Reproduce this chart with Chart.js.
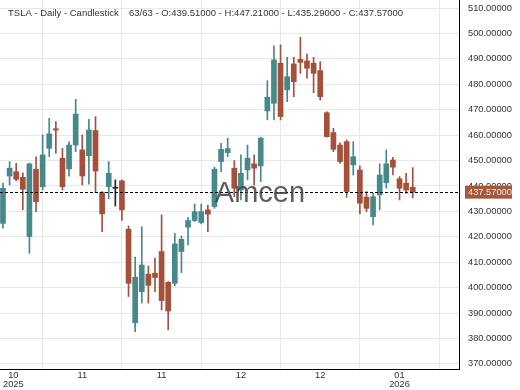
<!DOCTYPE html>
<html><head><meta charset="utf-8">
<script src="https://cdn.jsdelivr.net/npm/chart.js@4.4.0/dist/chart.umd.min.js"></script>
<style>html,body{margin:0;padding:0;background:#fff;overflow:hidden}</style>
</head><body>
<canvas id="c" width="520" height="390"></canvas>
<script>
const symbol = "TSLA";
const watermark = "Amcen";
const opens  = [425.3,443.9,445.6,443.4,420.1,446.6,439.7,454.8,462.5,450.9,446.7,456.1,454.2,451.9,461.8,437.4,439.7,439.1,442.0,423.0,386.2,398.4,405.3,405.7,414.2,402.1,401.7,414.2,423.8,426.4,425.6,430.6,431.9,449.6,453.1,447.0,438.4,446.3,448.7,447.9,469.5,472.5,488.3,477.8,488.0,489.8,489.2,488.3,485.4,468.8,461.0,456.1,457.4,448.3,446.3,435.6,427.9,436.5,441.3,450.2,442.8,441.1,439.51];
const highs  = [441.1,449.6,448.9,445.2,449.0,451.5,460.1,466.6,465.3,454.8,457.4,474.1,460.1,466.2,467.3,437.8,449.6,442.4,442.4,424.3,412.0,424.0,408.5,411.6,428.6,402.4,421.4,420.3,427.7,432.9,432.9,432.5,447.4,456.8,458.8,450.0,452.2,456.1,452.2,459.2,481.4,495.1,495.5,490.6,490.6,498.5,491.9,490.6,488.9,469.2,462.7,457.0,458.1,457.4,447.9,437.8,437.1,448.7,454.2,451.3,443.7,445.0,447.21];
const lows   = [423.4,440.4,442.0,430.6,413.5,429.9,438.4,451.5,452.9,438.4,443.9,453.5,440.4,440.7,437.4,422.0,435.0,432.1,426.4,396.5,382.7,393.9,393.9,398.4,391.2,383.4,400.7,405.9,416.8,426.0,425.1,422.0,431.2,445.6,451.5,435.8,434.5,442.4,440.4,441.7,466.0,466.0,466.0,473.2,475.1,484.3,482.4,476.7,473.8,459.2,453.5,448.9,435.5,444.3,429.0,429.9,424.7,430.6,439.1,444.3,434.5,437.1,435.29];
const closes = [439.1,447.0,442.6,438.7,448.7,433.8,452.2,460.5,462.0,439.7,456.1,468.3,443.9,462.0,445.9,429.0,445.0,439.1,430.6,401.7,404.1,408.9,400.9,404.0,394.9,390.8,417.2,419.0,426.4,429.9,429.9,428.9,446.6,454.4,454.7,439.1,445.0,450.9,447.0,458.8,474.9,489.6,467.3,483.0,481.0,488.6,486.3,484.3,475.1,459.4,454.4,449.6,437.8,451.5,433.2,431.2,435.8,444.3,448.7,447.4,439.1,438.4,437.57];
const tickIndex  = [0, 12, 24, 36, 48, 60];
const tickLabels = [["10","2025"],["11"],["11"],["12"],["12"],["01","2026"]];
const yTicks = [370,380,390,400,410,420,430,440,450,460,470,480,490,500,510];

const UP = '#47898a', DOWN = '#a5503b', FLAT = '#222222';
const n = opens.length;
const colors = opens.map((o,i)=> Math.abs(closes[i]-o) < 0.05 ? FLAT : (closes[i] > o ? UP : DOWN));
const wickData = opens.map((o,i)=>({x:i, y:[lows[i], highs[i]]}));
const bodyData = opens.map((o,i)=>({x:i, y:[Math.min(o,closes[i]), Math.max(o,closes[i])]}));
const FONT = 'Liberation Sans, Arial, sans-serif';

const overlay = {
  id:'overlay',
  afterDatasetsDraw(chart){
    const {ctx, chartArea:a, scales:{x,y}} = chart;
    const last = closes[n-1];
    const py = Math.round(y.getPixelForValue(last)) + 0.5;
    ctx.save();
    ctx.strokeStyle = '#000'; ctx.lineWidth = 1; ctx.setLineDash([3,2]);
    ctx.beginPath(); ctx.moveTo(a.left, py); ctx.lineTo(a.right, py); ctx.stroke();
    ctx.setLineDash([]);
    ctx.font = '29px ' + FONT; ctx.fillStyle = 'rgba(65,65,65,0.85)';
    ctx.textAlign = 'center'; ctx.textBaseline = 'alphabetic';
    ctx.fillText(watermark, chart.width/2, 202);
    ctx.font = '9.5px ' + FONT; ctx.fillStyle = '#333'; ctx.textAlign = 'left';
    ctx.fillText(symbol + ' - Daily - Candlestick', 8, 16);
    const f = v => v.toFixed(5);
    ctx.fillText(n + '/' + n + ' - O:' + f(opens[n-1]) + ' - H:' + f(highs[n-1]) + ' - L:' + f(lows[n-1]) + ' - C:' + f(last), 129, 16);
    ctx.restore();
  },
  afterDraw(chart){
    const {ctx, chartArea:a, scales:{x,y}} = chart;
    const last = closes[n-1];
    const py = y.getPixelForValue(last);
    ctx.save();
    ctx.fillStyle = '#a4573b';
    ctx.fillRect(465, py - 6.5, 47, 13);
    ctx.font = '9.3px ' + FONT; ctx.fillStyle = '#f4e8e0';
    ctx.textAlign = 'left'; ctx.textBaseline = 'middle';
    ctx.fillText(last.toFixed(5), 468, py);
    ctx.font = '9.3px ' + FONT;
    ctx.fillStyle = '#333'; ctx.textAlign = 'center';
    tickIndex.forEach((t,k)=>{
      const lines = tickLabels[k];
      const w = Math.max(...lines.map(s=>ctx.measureText(s).width));
      const cx = Math.max(x.getPixelForValue(t), a.left + w/2 + 3);
      lines.forEach((s,j)=> ctx.fillText(s, cx, a.bottom + 6.5 + j*9));
    });
    ctx.restore();
  }
};

new Chart(document.getElementById('c'), {
  type:'bar',
  data:{datasets:[
    {data:wickData, backgroundColor:colors, barThickness:1, grouped:false, order:2},
    {data:bodyData, backgroundColor:colors, barThickness:5, grouped:false, minBarLength:1, order:1}
  ]},
  options:{
    responsive:false, animation:false, events:[],
    layout:{padding:0},
    plugins:{legend:{display:false}, tooltip:{enabled:false}, title:{display:false}},
    scales:{
      x:{type:'linear', min:-0.45, max:69, offset:false,
        afterBuildTicks: s => { s.ticks = tickIndex.map(v=>({value:v})); },
        afterFit: s => { s.height = 21; s.paddingLeft = 0; s.paddingRight = 0; },
        grid:{color:'#e8e8e8', drawTicks:false},
        border:{color:'#000', width:1},
        ticks:{display:false}},
      y:{type:'linear', position:'right', min:368, max:513.15,
        afterBuildTicks: s => { s.ticks = yTicks.map(v=>({value:v})); },
        afterFit: s => { s.width = 61; s.paddingTop = 0; s.paddingBottom = 0; },
        grid:{color:'#e8e8e8', drawTicks:false},
        border:{color:'#000', width:1},
        ticks:{padding:9, color:'#333', font:{family:FONT, size:9.3}, callback: v => Number(v).toFixed(5)}}
    }
  },
  plugins:[overlay]
});
</script>
</body></html>
